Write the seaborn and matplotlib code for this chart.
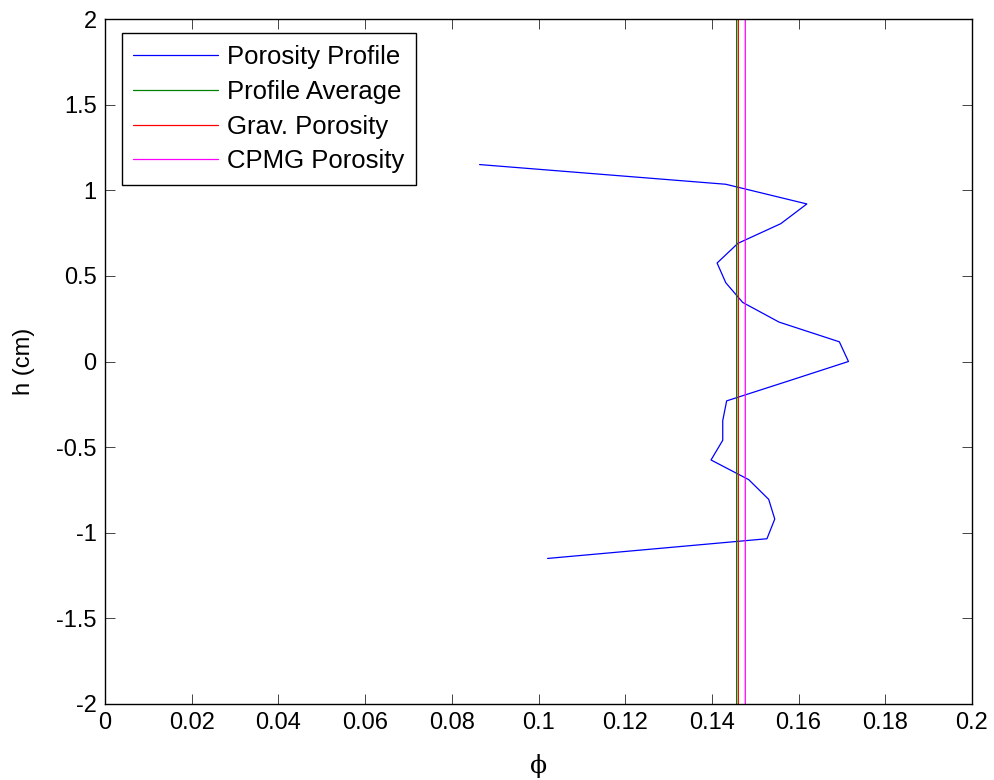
import matplotlib
matplotlib.use("Agg")
import matplotlib.pyplot as plt
import seaborn as sns
import pandas as pd

# Data
h = [1.15, 1.035, 0.92, 0.805, 0.69, 0.575, 0.46, 0.345, 0.23, 0.115, 0.0,
     -0.115, -0.23, -0.345, -0.46, -0.575, -0.69, -0.805, -0.92, -1.035, -1.15]
phi = [0.0864, 0.1432, 0.1619, 0.1559, 0.1460, 0.1412, 0.1432, 0.1471, 0.1555, 0.1694, 0.1715,
       0.1575, 0.1434, 0.1425, 0.1425, 0.1398, 0.1485, 0.1531, 0.1545, 0.1527, 0.1021]
profile_average = 0.1457
grav_porosity = 0.1461
cpmg_porosity = 0.1477
labels = ["Porosity Profile", "Profile Average", "Grav. Porosity", "CPMG Porosity"]
x_ticks = [0, 0.02, 0.04, 0.06, 0.08, 0.1, 0.12, 0.14, 0.16, 0.18, 0.2]
x_tick_labels = ["0", "0.02", "0.04", "0.06", "0.08", "0.1", "0.12", "0.14", "0.16", "0.18", "0.2"]
y_ticks = [-2, -1.5, -1, -0.5, 0, 0.5, 1, 1.5, 2]
y_tick_labels = ["-2", "-1.5", "-1", "-0.5", "0", "0.5", "1", "1.5", "2"]

sns.set_theme(style="white")
plt.rcParams['font.family'] = ['Liberation Sans', 'DejaVu Sans']
plt.rcParams['text.color'] = 'black'
plt.rcParams['axes.labelcolor'] = 'black'

df = pd.DataFrame({"phi": phi, "h": h})

fig = plt.figure(figsize=(9.95, 7.8), dpi=100)
ax = fig.add_axes([105/995, 1 - 704/780, (972-105)/995, (704-19)/780])

lw = 0.9
sns.lineplot(data=df, x="phi", y="h", sort=False, estimator=None, ax=ax,
             color=(0, 0, 1), lw=lw, label=labels[0])
ax.axvline(profile_average, color=(0, 0.5, 0), lw=lw, label=labels[1], snap=False)
ax.axvline(grav_porosity, color=(1, 0, 0), lw=lw, label=labels[2], snap=False)
ax.axvline(cpmg_porosity, color=(1, 0, 1), lw=lw, label=labels[3], snap=False)

ax.set_xlim(0, 0.2)
ax.set_ylim(-2, 2)
ax.set_xticks(x_ticks)
ax.set_xticklabels(x_tick_labels)
ax.set_yticks(y_ticks)
ax.set_yticklabels(y_tick_labels)
ax.tick_params(direction="in", length=7, width=0.6, color="#262626", labelsize=17,
               top=True, right=True, bottom=True, left=True, pad=6, labelcolor="black")
for s in ax.spines.values():
    s.set_color("black")
    s.set_linewidth(1.0)

ax.set_xlabel("ϕ", family=["DejaVu Serif"], fontsize=18, labelpad=14, color="black")
ax.set_ylabel("h (cm)", fontsize=17, labelpad=15, color="black")

leg = ax.legend(loc="upper left", bbox_to_anchor=(0.0193, 0.979), fontsize=18.5,
                frameon=True, fancybox=False, edgecolor="black", framealpha=1,
                handlelength=3.3, handletextpad=0.35, labelspacing=0.42,
                borderpad=0.45, borderaxespad=0, labelcolor="black")
leg.get_frame().set_linewidth(1.0)

fig.savefig("out.png", dpi=100, facecolor="white")
